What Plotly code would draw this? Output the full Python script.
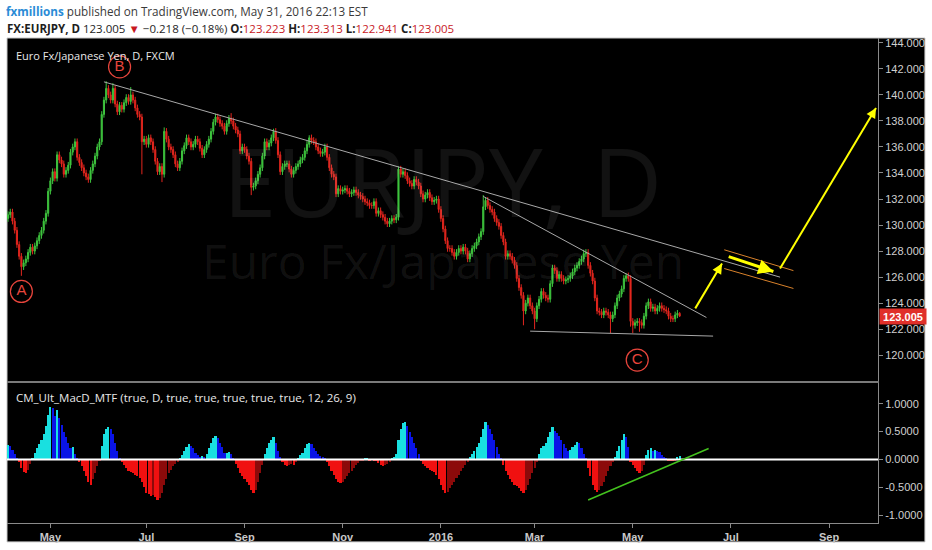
import math
import pandas as pd
import plotly.graph_objects as go

# ---------------- data ----------------
start_date = "2015-04-06"
last_date = "2016-05-31"
axis_end_date = "2016-09-30"

closes = [
    130.8, 131.0, 130.3, 129.6, 128.5, 127.6, 126.8, 127.1, 127.4, 127.9,
    128.3, 128.0, 128.4, 128.8, 129.2, 129.6, 130.3, 130.9, 132.6, 133.4,
    134.1, 133.6, 135.4, 135.0, 134.7, 133.9, 134.2, 134.6, 135.6, 136.0,
    136.4, 135.2, 134.8, 134.4, 134.0, 133.7, 133.5, 134.2, 134.7, 135.3,
    136.0, 136.4, 138.5, 139.6, 140.5, 140.0, 139.6, 140.5, 139.3, 138.7,
    139.2, 138.9, 139.4, 139.8, 139.5, 140.0, 139.6, 139.0, 138.5, 138.3,
    136.4, 136.6, 136.2, 136.7, 136.4, 135.8, 134.9, 134.1, 134.5, 133.9,
    137.2, 136.6, 136.0, 135.8, 135.4, 134.7, 134.4, 134.9, 135.7, 136.1,
    136.7, 136.4, 136.0, 136.2, 136.6, 136.4, 135.9, 135.4, 135.8, 136.2,
    136.6, 137.2, 137.9, 138.3, 138.1, 137.8, 137.6, 137.2, 137.8, 138.2,
    138.0, 137.6, 137.3, 137.0, 135.7, 136.0, 135.8, 135.3, 134.9, 132.9,
    133.0, 133.4, 133.9, 134.4, 135.3, 136.4, 136.0, 136.3, 136.7, 137.2,
    136.5, 135.4, 134.1, 134.5, 134.7, 134.7, 134.3, 133.9, 134.2, 134.5,
    134.7, 135.0, 135.2, 135.7, 136.2, 136.7, 136.5, 136.4, 136.0, 135.7,
    135.5, 135.6, 136.0, 135.2, 134.4, 133.9, 133.7, 132.4, 132.8, 132.6,
    132.7, 132.8, 132.6, 132.4, 132.5, 132.7, 132.5, 132.3, 132.2, 132.0,
    131.8, 131.7, 131.5, 131.5, 131.8, 130.9, 131.1, 130.8, 130.6, 130.3,
    130.1, 130.3, 130.5, 130.4, 130.6, 134.3, 133.9, 134.1, 133.8, 133.4,
    133.2, 133.0, 133.5, 133.3, 133.0, 132.4, 132.0, 132.3, 132.5, 132.1,
    131.8, 131.9, 132.0, 131.2, 130.5, 129.7, 128.8, 128.2, 128.2, 127.9,
    127.6, 127.9, 128.2, 128.0, 128.3, 128.0, 127.4, 127.8, 128.2, 128.4,
    128.7, 129.1, 129.5, 131.4, 131.9, 131.5, 131.2, 131.0, 130.5, 130.2,
    129.9, 129.2, 128.7, 127.6, 127.8, 127.6, 127.3, 126.9, 125.9, 125.2,
    124.6, 123.4, 124.0, 124.4, 123.8, 123.4, 122.8, 123.8, 124.3, 124.9,
    124.6, 124.4, 124.3, 125.5, 126.7, 126.5, 125.9, 126.2, 125.9, 125.7,
    125.8, 125.9, 126.1, 126.4, 126.7, 126.9, 127.2, 127.4, 127.8, 127.9,
    126.9, 126.3, 125.7, 124.4, 123.4, 123.3, 123.1, 123.4, 123.3, 123.1,
    122.8, 123.1, 123.8, 124.4, 124.7, 125.1, 125.9, 126.1, 125.9, 122.6,
    122.3, 122.5, 122.6, 122.5, 122.3, 123.0, 123.8, 124.1, 123.6, 123.7,
    123.4, 123.6, 123.8, 123.6, 123.5, 123.4, 123.0, 122.8, 122.8, 123.1,
    123.223, 123.005,
]
first_open = 130.5
wick = 0.25
high_marks = {44: 141.05, 47: 140.9, 55: 140.6, 70: 137.5, 100: 138.6, 119: 137.4,
              135: 136.9, 175: 134.5, 213: 132.3, 258: 128.1, 277: 126.3, 301: 123.313}
low_marks = {6: 126.1, 60: 133.9, 69: 133.3, 109: 132.3, 231: 122.3, 236: 122.0,
             270: 121.7, 279: 122.2, 280: 121.7, 283: 121.8, 301: 122.941}
last_open = 123.223

macd_hist = [
    0.27, 0.25, 0.18, 0.10, 0.03, -0.05, -0.15, -0.22, -0.24, -0.18,
    -0.08, 0.03, 0.12, 0.20, 0.28, 0.35, 0.45, 0.60, 0.80, 0.95,
    0.93, 0.78, 0.89, 0.75, 0.62, 0.50, 0.40, 0.30, 0.20, 0.22,
    0.10, 0.01, -0.05, -0.12, -0.20, -0.30, -0.40, -0.45, -0.35, -0.25,
    -0.12, -0.03, 0.25, 0.45, 0.55, 0.58, 0.55, 0.45, 0.30, 0.15,
    0.03, -0.05, -0.10, -0.15, -0.20, -0.22, -0.25, -0.27, -0.30, -0.33,
    -0.40, -0.50, -0.60, -0.62, -0.65, -0.64, -0.68, -0.72, -0.70, -0.60,
    -0.45, -0.35, -0.25, -0.18, -0.12, -0.08, -0.05, 0.02, 0.08, 0.15,
    0.22, 0.28, 0.25, 0.20, 0.12, 0.08, 0.05, 0.06, 0.05, 0.10,
    0.20, 0.30, 0.38, 0.42, 0.38, 0.30, 0.22, 0.12, 0.12, 0.13,
    0.10, 0.01, -0.08, -0.15, -0.25, -0.30, -0.35, -0.40, -0.45, -0.55,
    -0.60, -0.55, -0.40, -0.25, -0.10, 0.10, 0.20, 0.30, 0.35, 0.40,
    0.30, 0.15, 0.05, -0.05, -0.10, -0.12, -0.10, -0.08, -0.10, -0.05,
    0.03, 0.08, 0.12, 0.20, 0.28, 0.30, 0.28, 0.20, 0.15, 0.10,
    0.07, 0.04, 0.02, -0.05, -0.12, -0.20, -0.28, -0.35, -0.40, -0.42,
    -0.40, -0.35, -0.30, -0.25, -0.20, -0.15, -0.10, -0.06, -0.03, -0.01,
    0.01, 0.01, -0.01, 0.00, -0.01, -0.03, -0.06, -0.10, -0.12, -0.10,
    -0.08, -0.05, 0.02, 0.05, 0.10, 0.35, 0.55, 0.65, 0.67, 0.60,
    0.50, 0.40, 0.30, 0.20, 0.10, -0.03, -0.08, -0.12, -0.15, -0.18,
    -0.20, -0.22, -0.28, -0.35, -0.45, -0.55, -0.60, -0.58, -0.52, -0.45,
    -0.40, -0.33, -0.27, -0.20, -0.15, -0.10, -0.05, 0.05, 0.10, 0.15,
    0.22, 0.30, 0.40, 0.55, 0.67, 0.62, 0.55, 0.45, 0.35, 0.22,
    0.10, 0.02, -0.10, -0.20, -0.28, -0.35, -0.40, -0.45, -0.48, -0.52,
    -0.57, -0.61, -0.55, -0.45, -0.35, -0.25, -0.15, -0.05, 0.10, 0.20,
    0.25, 0.30, 0.40, 0.50, 0.58, 0.52, 0.48, 0.42, 0.35, 0.28,
    0.20, 0.15, 0.18, 0.22, 0.27, 0.31, 0.30, 0.20, 0.10, 0.03,
    -0.15, -0.30, -0.45, -0.55, -0.58, -0.55, -0.48, -0.40, -0.30, -0.20,
    -0.12, -0.05, 0.05, 0.15, 0.25, 0.35, 0.46, 0.40, 0.22, -0.05,
    -0.10, -0.15, -0.20, -0.24, -0.20, -0.10, 0.08, 0.18, 0.21, 0.16,
    0.17, 0.15, 0.13, 0.08, 0.05, 0.02, -0.01, -0.03, -0.03, -0.02,
    0.04, 0.06,
]

tick_months = ["2015-05-01", "2015-07-01", "2015-09-01", "2015-11-01", "2016-01-01",
               "2016-03-01", "2016-05-01", "2016-07-01", "2016-09-01"]
tick_text = ["May", "Jul", "Sep", "Nov", "2016", "Mar", "May", "Jul", "Sep"]
price_ticks = [120, 122, 124, 126, 128, 130, 132, 134, 136, 138, 140, 142, 144]
macd_ticks = [-1.0, -0.5, 0.0, 0.5, 1.0]
macd_tick_text = ["-1.0000", "-0.5000", "0.0000", "0.5000", "1.0000"]

# user drawings: (date, value)
grey_trend_lines = [
    [("2015-06-04", 141.0), ("2016-08-02", 126.0)],
    [("2016-01-28", 132.2), ("2016-06-16", 122.9)],
    [("2016-02-26", 121.85), ("2016-06-21", 121.47)],
]
orange_channel = [
    [("2016-06-28", 128.1), ("2016-08-10", 126.5)],
    [("2016-06-28", 126.66), ("2016-08-10", 125.13)],
]
yellow_arrows = [  # (tail, head, width)
    (("2016-06-09", 123.6), ("2016-06-27", 127.04), 2),
    (("2016-06-30", 127.57), ("2016-07-28", 126.43), 3),
    (("2016-08-02", 126.66), ("2016-09-30", 139.0), 2),
]
macd_trend = [("2016-04-04", -0.73), ("2016-06-17", 0.196)]
wave_labels = [("A", "2015-04-14", 124.9), ("B", "2015-06-15", 142.15), ("C", "2016-05-04", 119.63)]

# ---------------- build ----------------
cal = pd.bdate_range(start_date, axis_end_date)
pos = {d.strftime("%Y-%m-%d"): i for i, d in enumerate(cal)}
n = len(closes)
assert cal[n - 1].strftime("%Y-%m-%d") == last_date, cal[n - 1]
assert len(macd_hist) == n
xs = list(range(n))

opens = [first_open] + closes[:-1]
opens[-1] = last_open
highs = [high_marks.get(i, max(o, c) + wick) for i, (o, c) in enumerate(zip(opens, closes))]
lows = [low_marks.get(i, min(o, c) - wick) for i, (o, c) in enumerate(zip(opens, closes))]
dates = [d.strftime("%Y-%m-%d") for d in cal[:n]]

def first_bar_on_or_after(ds):
    t = pd.Timestamp(ds)
    for i, d in enumerate(cal):
        if d >= t:
            return i

tick_vals = [first_bar_on_or_after(m) for m in tick_months]

hist_colors = []
for i, v in enumerate(macd_hist):
    prev = macd_hist[i - 1] if i > 0 else v
    if v >= 0:
        hist_colors.append("#19e0e0" if v >= prev else "#0a14e6")
    else:
        hist_colors.append("#f01010" if v <= prev else "#8c0a0a")

W, H = 932, 550
ML, MR, MT, MB = 7, 53, 38, 24
PW, PH = W - ML - MR, H - MT - MB

def px_x(p):
    return (p - ML) / PW

def px_y(p):
    return (H - MB - p) / PH

x_range = [-0.45, pos[axis_end_date] + 0.9]
y_range = [118.03, 144.37]
main_dom = [px_y(383), 1]
sx = PW / (x_range[1] - x_range[0])
sy = PH * (main_dom[1] - main_dom[0]) / (y_range[1] - y_range[0])

fig = go.Figure()

fig.add_trace(go.Candlestick(
    x=xs, open=opens, high=highs, low=lows, close=closes,
    increasing=dict(line=dict(color="#3ec43e", width=1), fillcolor="#3ec43e"),
    decreasing=dict(line=dict(color="#e3261e", width=1), fillcolor="#e3261e"),
    whiskerwidth=0, showlegend=False, text=dates, xaxis="x", yaxis="y",
))

fig.add_trace(go.Bar(
    x=xs, y=macd_hist, marker=dict(color=hist_colors, line=dict(width=0)),
    width=0.95, showlegend=False, xaxis="x2", yaxis="y2",
))

for lab, d, v in wave_labels:
    fig.add_trace(go.Scatter(
        x=[pos[d]], y=[v], mode="markers+text", text=[lab],
        textposition="middle center",
        textfont=dict(color="#e8453c", size=15, family="Liberation Sans"),
        marker=dict(symbol="circle-open", size=22, color="#e8453c", line=dict(width=1.2)),
        showlegend=False, hoverinfo="skip", xaxis="x", yaxis="y",
    ))

shapes = [
    dict(type="rect", xref="paper", yref="paper", x0=px_x(7), x1=px_x(926),
         y0=px_y(545), y1=1.0, fillcolor="#000000", line=dict(color="#c8c8c8", width=1),
         layer="below"),
    dict(type="line", xref="x2 domain", yref="y2", x0=0, x1=1, y0=0, y1=0,
         line=dict(color="#ffffff", width=2)),
]
for (a, b) in grey_trend_lines:
    shapes.append(dict(type="line", xref="x", yref="y", x0=pos[a[0]], y0=a[1],
                       x1=pos[b[0]], y1=b[1], line=dict(color="#a8a8a8", width=1)))
for (a, b) in orange_channel:
    shapes.append(dict(type="line", xref="x", yref="y", x0=pos[a[0]], y0=a[1],
                       x1=pos[b[0]], y1=b[1], line=dict(color="#d9822b", width=1)))
shapes.append(dict(type="line", xref="x2", yref="y2", x0=pos[macd_trend[0][0]], y0=macd_trend[0][1],
                   x1=pos[macd_trend[1][0]], y1=macd_trend[1][1], line=dict(color="#44c21e", width=1.5)))

annotations = []
for tail, head, wd in yellow_arrows:
    x0, y0, x1, y1 = pos[tail[0]], tail[1], pos[head[0]], head[1]
    # shaft
    shapes.append(dict(type="line", xref="x", yref="y", x0=x0, y0=y0, x1=x1, y1=y1,
                       line=dict(color="#ffff00", width=wd)))
    # head: short pixel-based tail so only the arrow head is drawn at the exact point
    dxp, dyp = (x1 - x0) * sx, -(y1 - y0) * sy
    L = math.hypot(dxp, dyp)
    annotations.append(dict(x=x1, y=y1, xref="x", yref="y", axref="pixel", ayref="pixel",
                            ax=-dxp / L * 12, ay=-dyp / L * 12, showarrow=True,
                            arrowhead=2, arrowsize=1, arrowwidth=wd, arrowcolor="#ffff00",
                            standoff=0, startstandoff=0, text=""))

# watermark
annotations.append(dict(xref="paper", yref="paper", x=px_x(443), y=px_y(180), text="EURJPY, D",
                        xanchor="center", yanchor="middle", showarrow=False,
                        font=dict(family="Open Sans", size=96, color="rgba(255,255,255,0.07)")))
annotations.append(dict(xref="paper", yref="paper", x=px_x(443), y=px_y(262), text="Euro Fx/Japanese Yen",
                        xanchor="center", yanchor="middle", showarrow=False,
                        font=dict(family="Open Sans", size=48, color="rgba(255,255,255,0.07)")))

# pane titles
annotations.append(dict(xref="paper", yref="paper", x=px_x(14), y=px_y(56), xanchor="left", yanchor="middle",
                        text="Euro Fx/Japanese Yen, D, FXCM", showarrow=False,
                        font=dict(family="Open Sans", size=11, color="#e8e8e8")))
annotations.append(dict(xref="paper", yref="paper", x=px_x(14), y=px_y(400), xanchor="left", yanchor="middle",
                        text="CM_Ult_MacD_MTF (true, D, true, true, true, true, true, 12, 26, 9)", showarrow=False,
                        font=dict(family="Open Sans", size=11.5, color="#e8e8e8")))

# header
red = "#c8191f"
annotations.append(dict(xref="paper", yref="paper", x=px_x(4), y=px_y(11), xanchor="left", yanchor="middle",
                        text="<span style='color:#2a8bd6'><b>fxmillions</b></span> published on TradingView.com, May 31, 2016 22:13 EST",
                        showarrow=False, font=dict(family="Open Sans", size=11.7, color="#3a3a3a")))
hdr2 = ("<b>FX:EURJPY, D</b> 123.005 <span style='color:%s'>▼</span> −0.218 (−0.18%%) "
        "<b>O:</b><span style='color:%s'>123.223</span> <b>H:</b><span style='color:%s'>123.313</span> "
        "<b>L:</b><span style='color:%s'>122.941</span> <b>C:</b><span style='color:%s'>123.005</span>") % (red, red, red, red, red)
annotations.append(dict(xref="paper", yref="paper", x=px_x(5), y=px_y(28), xanchor="left", yanchor="middle",
                        text=hdr2, showarrow=False, font=dict(family="Open Sans", size=11.5, color="#1e1e1e")))

# last price tag
annotations.append(dict(xref="paper", yref="y", x=px_x(880), y=closes[-1], xanchor="left", yanchor="middle",
                        text="<b>123.005</b>", showarrow=False, bgcolor="#e0302a", borderpad=0,
                        width=46, height=15, align="center",
                        font=dict(family="Liberation Sans", size=11, color="#ffffff")))

axis_common = dict(showgrid=False, zeroline=False)
ytick_font = dict(family="Liberation Sans", size=11, color="#d0d0d0")

fig.update_layout(
    width=W, height=H, margin=dict(l=ML, r=MR, t=MT, b=MB),
    paper_bgcolor="#ffffff", plot_bgcolor="#000000",
    bargap=0, showlegend=False, hovermode=False,
    xaxis=dict(domain=[0, 1], anchor="y", range=x_range, showticklabels=False, ticks="",
               showline=True, linecolor="#7a7a7a", linewidth=2, rangeslider=dict(visible=False),
               **axis_common),
    xaxis2=dict(domain=[0, 1], anchor="y2", range=x_range, matches="x", tickmode="array",
                tickvals=tick_vals, ticktext=tick_text, ticks="outside", ticklen=4, tickcolor="#8a8a8a",
                showline=True, linecolor="#8a8a8a", linewidth=1,
                tickfont=dict(family="Liberation Sans", size=11, color="#c8c8c8", weight="bold"),
                **axis_common),
    yaxis=dict(domain=main_dom, anchor="x", side="right", range=y_range,
               tickmode="array", tickvals=price_ticks, tickformat=".3f", ticks="outside", ticklen=4,
               tickcolor="#8a8a8a", showline=True, linecolor="#8a8a8a", linewidth=1,
               tickfont=ytick_font, **axis_common),
    yaxis2=dict(domain=[0, px_y(385)], anchor="x2", side="right", range=[-1.143, 1.375],
                tickmode="array", tickvals=macd_ticks, ticktext=macd_tick_text,
                ticks="outside", ticklen=4,
                tickcolor="#8a8a8a", showline=True, linecolor="#8a8a8a", linewidth=1,
                tickfont=ytick_font, **axis_common),
    shapes=shapes, annotations=annotations,
)

fig.write_html("out.html", config={"displayModeBar": False},
               post_script="document.body.style.margin='0px';")
